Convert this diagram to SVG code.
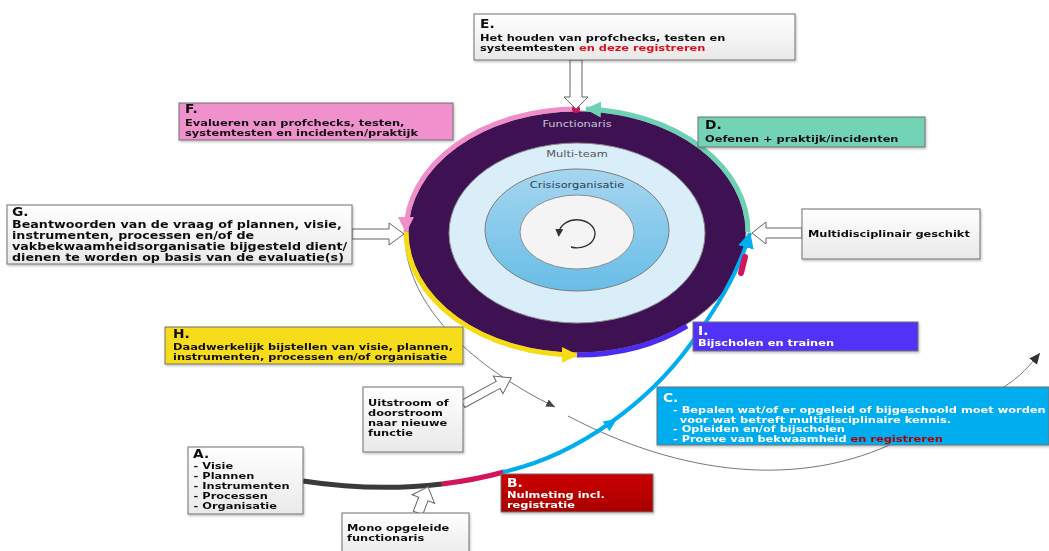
<svg xmlns="http://www.w3.org/2000/svg" width="1049" height="551" viewBox="0 0 1049 551">
<defs>
<style>
.t{font-family:"DejaVu Sans",Verdana,sans-serif;font-weight:bold;font-size:9.5px;fill:#111}
.lb{font-size:11.5px}
.gt{font-size:10.6px}
.wt{fill:#fff}
.red{fill:#e3101a}
.dred{fill:#b00000}
.box{stroke:#707070;stroke-width:1}
.ha{fill:#fff;stroke:#666;stroke-width:1}
.rt{font-family:"DejaVu Sans",sans-serif;font-size:9.5px;text-anchor:middle}
.arc{fill:none;stroke-width:5}
</style>
<linearGradient id="gW" x1="0" y1="0" x2="0" y2="1"><stop offset="0" stop-color="#ffffff"/><stop offset="1" stop-color="#e9e9e9"/></linearGradient>
<linearGradient id="gB" x1="0" y1="0" x2="0" y2="1"><stop offset="0" stop-color="#cc0000"/><stop offset="1" stop-color="#a80000"/></linearGradient>
<linearGradient id="gM" x1="0" y1="0" x2="0" y2="1"><stop offset="0" stop-color="#a6d6f0"/><stop offset="1" stop-color="#68bde7"/></linearGradient>
<filter id="sh" x="-5%" y="-10%" width="110%" height="130%"><feDropShadow dx="1" dy="1.5" stdDeviation="1" flood-color="#000" flood-opacity="0.25"/></filter>
<marker id="mPink" markerUnits="userSpaceOnUse" markerWidth="18" markerHeight="18" refX="15" refY="9" orient="auto" viewBox="0 0 18 18"><path d="M0,1 L16,9 L0,17 z" fill="#ee8fc9"/></marker>
<marker id="mTeal" markerUnits="userSpaceOnUse" markerWidth="18" markerHeight="18" refX="15" refY="9" orient="auto" viewBox="0 0 18 18"><path d="M0,1 L16,9 L0,17 z" fill="#6fd1b4"/></marker>
<marker id="mYel" markerUnits="userSpaceOnUse" markerWidth="18" markerHeight="18" refX="15" refY="9" orient="auto" viewBox="0 0 18 18"><path d="M0,1 L16,9 L0,17 z" fill="#f5dc14"/></marker>
<marker id="mCyan" markerUnits="userSpaceOnUse" markerWidth="18" markerHeight="18" refX="15" refY="9" orient="auto" viewBox="0 0 18 18"><path d="M0,1 L16,9 L0,17 z" fill="#00aeef"/></marker>
<marker id="mGray" markerUnits="userSpaceOnUse" markerWidth="10" markerHeight="10" refX="9" refY="5" orient="auto" viewBox="0 0 10 10"><path d="M0,1 L9,5 L0,9 z" fill="#444"/></marker>
<marker id="mGray2" markerUnits="userSpaceOnUse" markerWidth="12" markerHeight="12" refX="11" refY="6" orient="auto" viewBox="0 0 12 12"><path d="M0,1 L11,6 L0,11 z" fill="#333"/></marker>
<marker id="mIcon" markerUnits="userSpaceOnUse" markerWidth="8" markerHeight="8" refX="4" refY="4" orient="auto" viewBox="0 0 8 8"><path d="M0,0 L8,4 L0,8 z" fill="#333"/></marker>
</defs>

<g id="connectors">
<path d="M406,250 C415,310 470,365 555,407" fill="none" stroke="#777" stroke-width="1" marker-end="url(#mGray)"/>
<path d="M568,416 C680,475 800,490 900,440 S1010,390 1040,353" fill="none" stroke="#777" stroke-width="1" marker-end="url(#mGray2)"/>
</g>

<g id="cycle">
<ellipse cx="577" cy="232" rx="169" ry="121" fill="#3d1152" stroke="#8a7f94" stroke-width="1"/>
<ellipse cx="577" cy="233" rx="128" ry="90" fill="#daeef9" stroke="#8d8d8d" stroke-width="1"/>
<ellipse cx="577" cy="230" rx="92" ry="61" fill="url(#gM)" stroke="#7d7d7d" stroke-width="1"/>
<ellipse cx="577" cy="232" rx="57" ry="37" fill="#f4f4f4" stroke="#8d8d8d" stroke-width="1"/>
<text class="rt" transform="translate(577,127) scale(1.2,1)" fill="#cdc4df">Functionaris</text>
<text class="rt" transform="translate(577,157) scale(1.2,1)" fill="#555">Multi-team</text>
<text class="rt" transform="translate(577,188) scale(1.2,1)" fill="#2c3e50">Crisisorganisatie</text>
<path d="M571,247 A18,14 0 1 0 559,233" fill="none" stroke="#333" stroke-width="1.4" marker-end="url(#mIcon)"/>
</g>

<g id="flow">
<path class="arc" d="M577,109 A171,123 0 0 0 406,232" stroke="#ee8fc9" marker-end="url(#mPink)"/>
<path class="arc" d="M748,232 A171,123 0 0 0 586,109" stroke="#6fd1b4" stroke-width="4" marker-end="url(#mTeal)"/>
<path class="arc" d="M406,232 A171,123 0 0 0 577,355" stroke="#f5dc14" marker-end="url(#mYel)"/>
<path class="arc" d="M577,355 A171,123 0 0 0 687,326" stroke="#4b2cf0"/>
<path d="M303,481 Q375,492 442,484" fill="none" stroke="#3a3a3a" stroke-width="5"/>
<path d="M442,484 Q475,480 504,472" fill="none" stroke="#d3145a" stroke-width="5"/>
<path d="M503,472 C580,455 650,400 690,345 C715,310 738,275 750,233" fill="none" stroke="#00aeef" stroke-width="4" marker-end="url(#mCyan)"/>
<polygon points="-6,-6 7,0 -6,6" transform="translate(611,423) rotate(-35)" fill="#00aeef"/>
<path d="M745,257 L741,273" stroke="#d3145a" stroke-width="6" stroke-linecap="round"/>
<circle cx="576" cy="109" r="4" fill="#d3145a"/>
</g>

<g id="arrows">
<polygon class="ha" points="570,60 582,60 582,97 588,97 576,109 564,97 570,97"/>
<polygon class="ha" points="352,229 389,229 389,223 404,234 389,245 389,239 352,239"/>
<polygon class="ha" points="802,228 766,228 766,222 752,233 766,244 766,238 802,238"/>
<polygon class="ha" transform="translate(463,404) rotate(-28.5)" points="0,-4 40,-4 40,-10 55,0 40,10 40,4 0,4"/>
<polygon class="ha" transform="translate(418,513) rotate(-69)" points="0,-5 15,-5 15,-12 28,0 15,12 15,5 0,5"/>
</g>

<g id="nodeE" filter="url(#sh)">
<rect class="box" x="474" y="14" width="321" height="46" fill="url(#gW)"/>
<text class="t" transform="translate(480,28) scale(1.2,1)"><tspan class="lb" x="0" y="0">E.</tspan><tspan x="0" y="13">Het houden van profchecks, testen en</tspan><tspan x="0" y="23">systeemtesten <tspan class="red">en deze registreren</tspan></tspan></text>
</g>

<g id="nodeF" filter="url(#sh)">
<rect class="box" x="179" y="103" width="274" height="37" fill="#f090cc"/>
<text class="t" transform="translate(185,113) scale(1.2,1)"><tspan class="lb" x="0" y="0">F.</tspan><tspan x="0" y="13">Evalueren van profchecks, testen,</tspan><tspan x="0" y="23">systemtesten en incidenten/praktijk</tspan></text>
</g>

<g id="nodeD" filter="url(#sh)">
<rect class="box" x="698" y="117" width="227" height="30" fill="#72d4b5"/>
<text class="t" transform="translate(705,129) scale(1.2,1)"><tspan class="lb" x="0" y="0">D.</tspan><tspan x="0" y="13">Oefenen + praktijk/incidenten</tspan></text>
</g>

<g id="nodeG" filter="url(#sh)">
<rect class="box" x="7" y="205" width="345" height="59" fill="url(#gW)"/>
<text class="t gt" transform="translate(12,216) scale(1.2,1)"><tspan class="lb" x="0" y="0">G.</tspan><tspan x="0" y="12">Beantwoorden van de vraag of plannen, visie,</tspan><tspan x="0" y="23">instrumenten, processen en/of de</tspan><tspan x="0" y="34">vakbekwaamheidsorganisatie bijgesteld dient/</tspan><tspan x="0" y="45">dienen te worden op basis van de evaluatie(s)</tspan></text>
</g>

<g id="nodeMulti" filter="url(#sh)">
<rect class="box" x="802" y="209" width="178" height="50" fill="url(#gW)"/>
<text class="t" transform="translate(808,237) scale(1.2,1)">Multidisciplinair geschikt</text>
</g>

<g id="nodeH" filter="url(#sh)">
<rect class="box" x="165" y="327" width="298" height="37" fill="#f7dc1b"/>
<text class="t" transform="translate(173,338) scale(1.2,1)"><tspan class="lb" x="0" y="0">H.</tspan><tspan x="0" y="12">Daadwerkelijk bijstellen van visie, plannen,</tspan><tspan x="0" y="22">instrumenten, processen en/of organisatie</tspan></text>
</g>

<g id="nodeI" filter="url(#sh)">
<rect class="box" x="693" y="322" width="225" height="29" fill="#5232f7"/>
<text class="t wt" transform="translate(698,335) scale(1.2,1)"><tspan class="lb" x="0" y="0">I.</tspan><tspan x="0" y="11">Bijscholen en trainen</tspan></text>
</g>

<g id="nodeC" filter="url(#sh)">
<rect class="box" x="657" y="387" width="392" height="58" fill="#00adef"/>
<text class="t wt" transform="translate(663,402) scale(1.2,1)"><tspan class="lb" x="0" y="0">C.</tspan><tspan x="8.3" y="11">- Bepalen wat/of er opgeleid of bijgeschoold moet worden</tspan><tspan x="14" y="21">voor wat betreft multidisciplinaire kennis.</tspan><tspan x="8.3" y="30.5">- Opleiden en/of bijscholen</tspan><tspan x="8.3" y="40">- Proeve van bekwaamheid <tspan class="dred">en registreren</tspan></tspan></text>
</g>

<g id="nodeUit" filter="url(#sh)">
<rect class="box" x="363" y="387" width="100" height="65" fill="url(#gW)"/>
<text class="t" transform="translate(368,406) scale(1.2,1)"><tspan x="0" y="0">Uitstroom of</tspan><tspan x="0" y="10">doorstroom</tspan><tspan x="0" y="20">naar nieuwe</tspan><tspan x="0" y="30">functie</tspan></text>
</g>

<g id="nodeA" filter="url(#sh)">
<rect class="box" x="188" y="447" width="115" height="67" fill="url(#gW)"/>
<text class="t" transform="translate(193,458) scale(1.2,1)"><tspan class="lb" x="0" y="0">A.</tspan><tspan x="0.5" y="11">- Visie</tspan><tspan x="0.5" y="21">- Plannen</tspan><tspan x="0.5" y="31">- Instrumenten</tspan><tspan x="0.5" y="41">- Processen</tspan><tspan x="0.5" y="51">- Organisatie</tspan></text>
</g>

<g id="nodeMono" filter="url(#sh)">
<rect class="box" x="342" y="513" width="127" height="45" fill="url(#gW)"/>
<text class="t" transform="translate(347,531) scale(1.2,1)"><tspan x="0" y="0">Mono opgeleide</tspan><tspan x="0" y="10">functionaris</tspan></text>
</g>

<g id="nodeB" filter="url(#sh)">
<rect class="box" x="501" y="474" width="152" height="38" fill="url(#gB)"/>
<text class="t wt" transform="translate(507,487) scale(1.2,1)"><tspan class="lb" x="0" y="0">B.</tspan><tspan x="0" y="11">Nulmeting incl.</tspan><tspan x="0" y="21">registratie</tspan></text>
</g>
</svg>
